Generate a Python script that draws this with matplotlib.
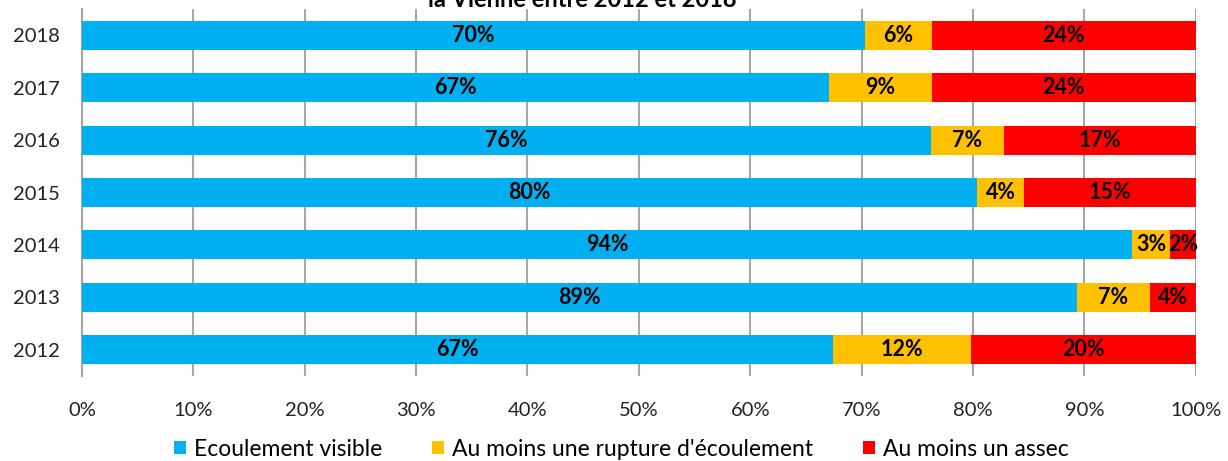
import matplotlib
matplotlib.use("Agg")
import matplotlib.pyplot as plt
from matplotlib.patches import Patch
import numpy as np

years = ["2012", "2013", "2014", "2015", "2016", "2017", "2018"]
visible = [67.4, 89.3, 94.3, 80.4, 76.2, 67.1, 70.3]
rupture = [12.4, 6.6, 3.4, 4.2, 6.6, 9.2, 6.0]
assec = [20.2, 4.1, 2.3, 15.4, 17.2, 23.7, 23.7]
series_names = ["Ecoulement visible", "Au moins une rupture d'écoulement", "Au moins un assec"]
colors = ["#00B0F0", "#FFC000", "#FF0000"]
xticks = [0, 10, 20, 30, 40, 50, 60, 70, 80, 90, 100]
title = "la Vienne entre 2012 et 2018"

plt.rcParams['font.family'] = ['Lato', 'DejaVu Sans']

fig = plt.figure(figsize=(12.28, 4.61), dpi=100)
ax = fig.add_axes([82/1228, 1-375.7/461, (1195.7-82)/1228, (375.7-9.3)/461])

y = np.arange(len(years))
left = np.zeros(len(years))
for vals, c, name in zip([visible, rupture, assec], colors, series_names):
    ax.barh(y, vals, left=left, height=0.555, color=c, edgecolor='none', label=name, zorder=3)
    for yi, l, v in zip(y, left, vals):
        ax.text(l + v/2, yi, "%.0f%%" % v, ha='center', va='center', fontsize=15.5,
                fontweight='bold', color='black', zorder=4)
    left = left + np.array(vals)

ax.set_xlim(0, 100)
ax.set_ylim(-0.5, len(years)-0.5)
ax.set_yticks(y)
ax.set_yticklabels(years, fontsize=14.5, color='#222222')
ax.set_xticks(xticks)
ax.set_xticklabels(["%d%%" % t for t in xticks], fontsize=14.5, color='#222222')
ax.tick_params(axis='y', length=0, pad=16)
ax.tick_params(axis='x', length=0, pad=19)
ax.grid(axis='x', color='#A6A6A6', linewidth=1.5, zorder=0)
for s in ['top', 'right', 'bottom']:
    ax.spines[s].set_visible(False)
ax.spines['left'].set_color('#A6A6A6')
ax.spines['left'].set_linewidth(1.5)

handles = [Patch(facecolor=c, edgecolor='none') for c in colors]
fig.legend(handles, series_names, loc='center', bbox_to_anchor=(621.5/1228, 1-449/461), ncol=3,
           frameon=False, fontsize=16.5, handlelength=0.5, handleheight=0.5, handletextpad=0.35,
           columnspacing=2.2, borderpad=0, borderaxespad=0)

fig.text(582/1228, 1-7/461, title, ha='center', va='baseline', fontsize=17, fontweight='bold')

fig.savefig("out.png", dpi=100)
